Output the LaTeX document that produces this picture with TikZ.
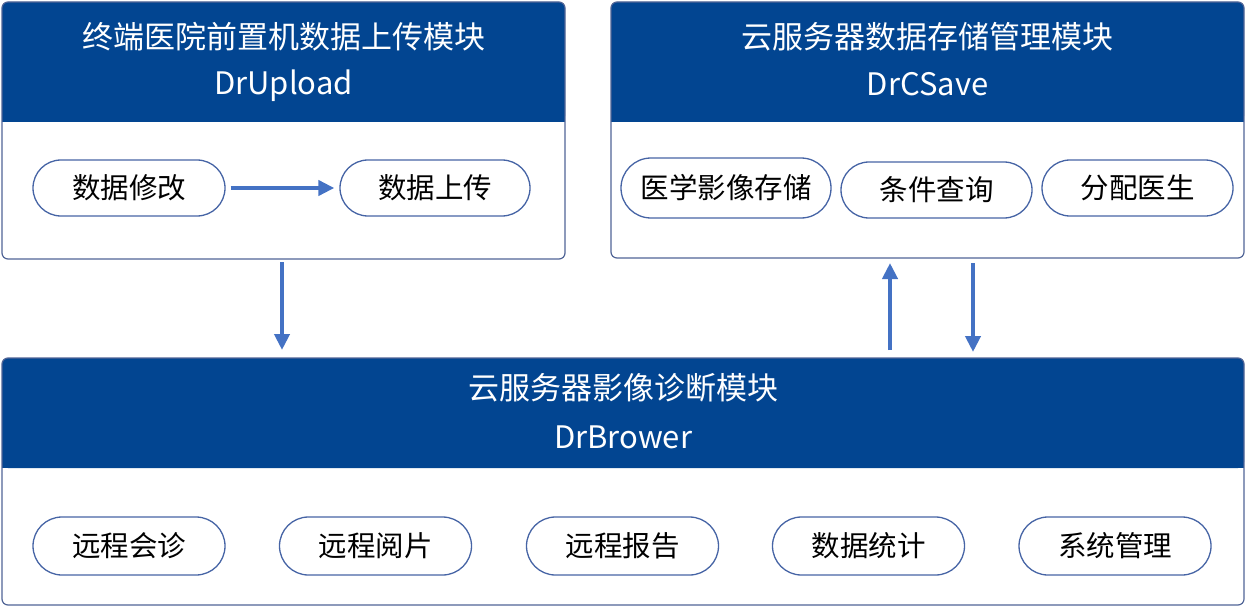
\documentclass[tikz,border=0pt]{standalone}
\usepackage{fontspec}
\setmainfont{Noto Sans CJK SC}
\usetikzlibrary{shapes.misc,arrows.meta}
\definecolor{hdr}{RGB}{2,69,145}
\definecolor{bdr}{RGB}{80,100,150}
\definecolor{pbdr}{RGB}{70,100,165}
\definecolor{arrc}{RGB}{68,114,196}
\begin{document}
\begin{tikzpicture}[x=1pt,y=-1pt,
  box/.style={draw=bdr,line width=1.2pt,rounded corners=6pt},
  hdrfill/.style={fill=hdr,rounded corners=6pt},
  hdrtxt/.style={text=white,font=\fontsize{31}{36}\selectfont,inner sep=0pt},
  pill/.style={draw=pbdr,line width=1.3pt,rounded rectangle,minimum height=56pt,font=\fontsize{28.5}{32}\selectfont,inner sep=0pt},
  arr/.style={draw=arrc,line width=4pt,-{Triangle[length=16pt,width=15pt]}}]
\useasboundingbox (0,0) rectangle (1247,607);
% module 1
\fill[hdrfill] (2,2) rectangle (565,122);
\fill[hdr] (2,110) rectangle (565,122);
\draw[box] (2,2) rectangle (565,259);
\node[hdrtxt] (t1) at (283.5,37) {终端医院前置机数据上传模块};
\node[hdrtxt] (s1) at (283.5,86) {DrUpload};
\node[pill,minimum width=192pt] (p11) at (129,188) {数据修改};
\node[pill,minimum width=190pt] (p12) at (435,188) {数据上传};
\draw[arr] ([xshift=5pt]p11.east) -- ([xshift=-5pt]p12.west);
% module 2
\fill[hdrfill] (611,2) rectangle (1244,122);
\fill[hdr] (611,110) rectangle (1244,122);
\draw[box] (611,2) rectangle (1244,258);
\node[hdrtxt] (t2) at (927.5,37) {云服务器数据存储管理模块};
\node[hdrtxt] (s2) at (927.5,84) {DrCSave};
\node[pill,minimum width=210pt,minimum height=60pt] (r1) at (726,188) {医学影像存储};
\node[pill,minimum width=191pt] (r2) at (936.5,190) {条件查询};
\node[pill,minimum width=191pt] (r3) at (1137.5,188) {分配医生};
% module 3
\fill[hdrfill] (2,358) rectangle (1244,468);
\fill[hdr] (2,456) rectangle (1244,468);
\draw[box] (2,358) rectangle (1244,605);
\node[hdrtxt] (t3) at (623,388) {云服务器影像诊断模块};
\node[hdrtxt] (s3) at (623,437) {DrBrower};
\node[pill,minimum width=192pt,minimum height=58pt] (b1) at (129,546) {远程会诊};
\node[pill,minimum width=192pt,minimum height=58pt] (b2) at (375.5,546) {远程阅片};
\node[pill,minimum width=192pt,minimum height=58pt] (b3) at (622.5,546) {远程报告};
\node[pill,minimum width=192pt,minimum height=58pt] (b4) at (868.5,546) {数据统计};
\node[pill,minimum width=192pt,minimum height=58pt] (b5) at (1115,546) {系统管理};
% connectors between modules
\coordinate (a1s) at (282,262);
\coordinate (a1e) at (282,350);
\coordinate (a2s) at (890,350);
\coordinate (a2e) at (890,263);
\coordinate (a3s) at (973,263);
\coordinate (a3e) at (973,352);
\draw[arr] (a1s) -- (a1e);
\draw[arr] (a2s) -- (a2e);
\draw[arr] (a3s) -- (a3e);
\end{tikzpicture}
\end{document}
